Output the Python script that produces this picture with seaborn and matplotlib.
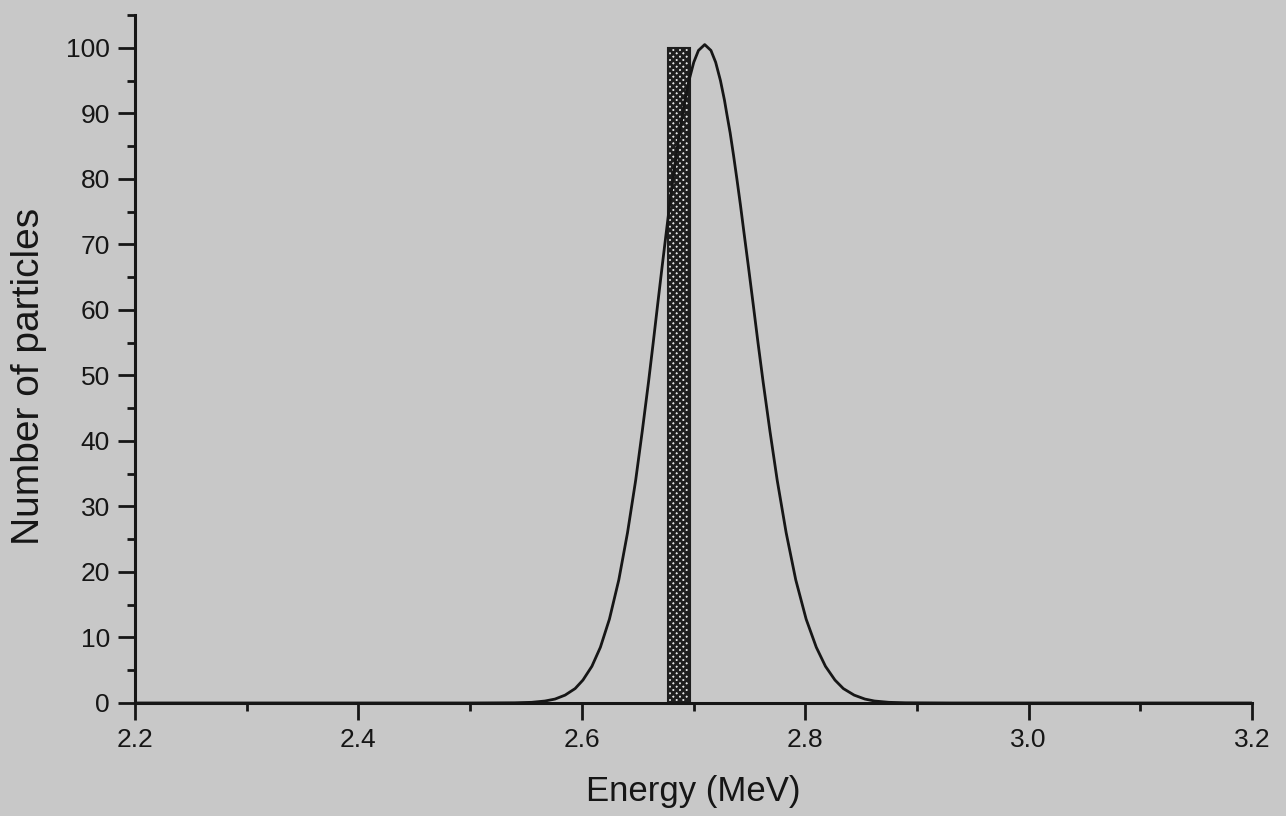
import matplotlib
matplotlib.use("Agg")
import matplotlib.pyplot as plt
from matplotlib.ticker import MultipleLocator
import seaborn as sns
import pandas as pd

# Curve, as energies (MeV) where it crosses each count level
levels = [0.0, 0.0, 0.03, 0.1, 0.3, 0.6, 1.2, 2.2, 3.5, 5.6, 8.5, 12.8, 18.8, 26.0,
          34.0, 41.5, 49.0, 55.0, 61.0, 66.5, 72.0, 76.0, 80.0, 83.6, 87.0, 90.0,
          92.0, 95.0, 97.8, 99.6]
left_energy = [2.200, 2.500, 2.540, 2.555, 2.567, 2.576, 2.585, 2.594, 2.601, 2.609,
               2.6166, 2.6247, 2.6331, 2.6409, 2.6482, 2.6541, 2.6597, 2.6639, 2.6680,
               2.6718, 2.6757, 2.6786, 2.6816, 2.6845, 2.6874, 2.6903, 2.6923, 2.6959,
               2.7002, 2.7044]
right_energy = [3.200, 2.930, 2.890, 2.875, 2.862, 2.8534, 2.8438, 2.8341, 2.8266,
                2.8181, 2.8099, 2.8008, 2.7915, 2.7829, 2.7749, 2.7684, 2.7623, 2.7577,
                2.7533, 2.7492, 2.7450, 2.7420, 2.7388, 2.7358, 2.7328, 2.7297, 2.7277,
                2.7241, 2.7198, 2.7156]
peak_energy = 2.710
peak_count = 100.5

# Single hatched bar
bar_left = [2.677]
bar_width = [0.020]
bar_height = [100.0]

x_ticks = [2.2, 2.4, 2.6, 2.8, 3.0, 3.2]
x_tick_labels = ["2.2", "2.4", "2.6", "2.8", "3.0", "3.2"]
y_ticks = [0, 10, 20, 30, 40, 50, 60, 70, 80, 90, 100]

bg = "#c8c8c8"
ink = "#161616"

sns.set_theme(style="ticks")
plt.rcParams["font.family"] = ["Liberation Sans", "DejaVu Sans"]
plt.rcParams["hatch.linewidth"] = 2.0

fig = plt.figure(figsize=(12.86, 8.16), dpi=100, facecolor=bg)
ax = fig.add_axes([0.105, 0.1385, 0.8686, 0.843])
ax.set_facecolor(bg)

ax.bar(bar_left, bar_height, width=bar_width, align="edge",
       facecolor="#e6e6e6", edgecolor="#1e1e1e", hatch="xxxxx", linewidth=1.5, zorder=2)

curve_x = left_energy + [peak_energy] + right_energy[::-1]
curve_y = levels + [peak_count] + levels[::-1]
df = pd.DataFrame({"Energy": curve_x, "Count": curve_y})
sns.lineplot(data=df, x="Energy", y="Count", ax=ax, color=ink, linewidth=2.0,
             zorder=3, sort=False)
for ln in ax.get_lines():
    ln.set_solid_joinstyle("round")

ax.set_xlim(2.2, 3.2)
ax.set_ylim(0, 105)
ax.set_xticks(x_ticks)
ax.set_xticklabels(x_tick_labels)
ax.set_yticks(y_ticks)
ax.xaxis.set_minor_locator(MultipleLocator(0.1))
ax.yaxis.set_minor_locator(MultipleLocator(5))

for s in ["top", "right"]:
    ax.spines[s].set_visible(False)
for s in ["left", "bottom"]:
    ax.spines[s].set_color(ink)
    ax.spines[s].set_linewidth(2.2)

ax.tick_params(axis="both", which="major", direction="out", length=12, width=2.0,
               color=ink, labelcolor=ink, labelsize=19, pad=6)
ax.tick_params(axis="both", which="minor", direction="out", length=6, width=2.0,
               color=ink)

ax.set_xlabel("Energy (MeV)", fontsize=25, color=ink)
ax.set_ylabel("Number of particles", fontsize=28, color=ink)
ax.xaxis.set_label_coords(0.5, -0.105)
ax.yaxis.set_label_coords(-0.0785, 0.474)

fig.savefig("out.png", dpi=100, facecolor=bg)
